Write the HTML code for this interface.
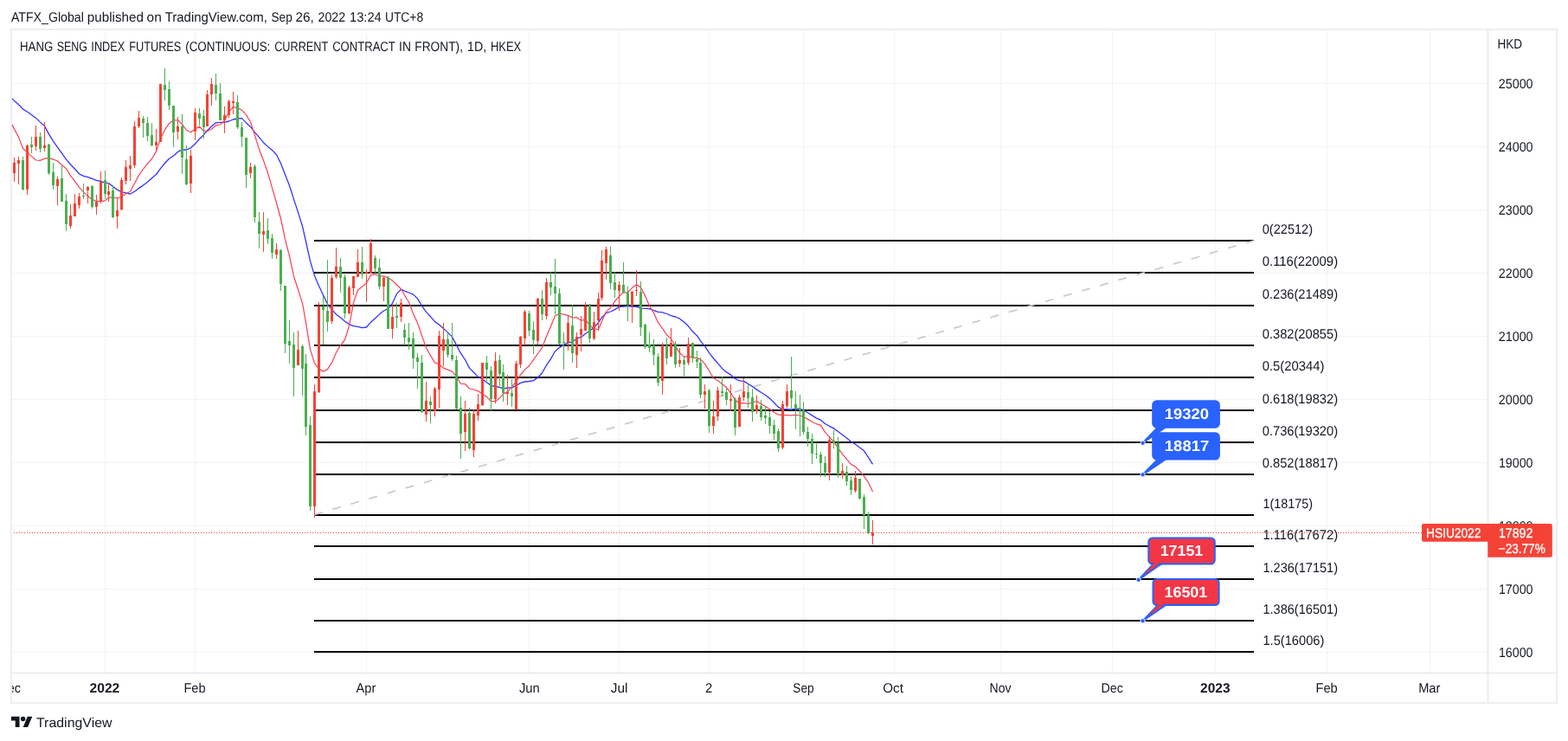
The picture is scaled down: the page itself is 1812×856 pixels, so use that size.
<!DOCTYPE html>
<html lang="en"><head><meta charset="utf-8"><title>HANG SENG INDEX FUTURES</title>
<style>html,body{margin:0;padding:0;background:#fff}body{width:1812px;height:856px;overflow:hidden}svg{display:block}text{font-family:"Liberation Sans", sans-serif;text-rendering:geometricPrecision}</style></head><body>
<svg width="1812" height="856" viewBox="0 0 1812 856">
<rect width="1812" height="856" fill="#fff"/>
<g stroke="#2a2e39" stroke-opacity="0.06" stroke-width="1"><line x1="14" x2="1719" y1="96.5" y2="96.5"/><line x1="14" x2="1719" y1="169.5" y2="169.5"/><line x1="14" x2="1719" y1="242.5" y2="242.5"/><line x1="14" x2="1719" y1="315.5" y2="315.5"/><line x1="14" x2="1719" y1="388.5" y2="388.5"/><line x1="14" x2="1719" y1="461.5" y2="461.5"/><line x1="14" x2="1719" y1="534.5" y2="534.5"/><line x1="14" x2="1719" y1="607.5" y2="607.5"/><line x1="14" x2="1719" y1="680.5" y2="680.5"/><line x1="14" x2="1719" y1="753.5" y2="753.5"/><line x1="121.5" x2="121.5" y1="35" y2="777"/><line x1="225.5" x2="225.5" y1="35" y2="777"/><line x1="423.5" x2="423.5" y1="35" y2="777"/><line x1="611.5" x2="611.5" y1="35" y2="777"/><line x1="715.5" x2="715.5" y1="35" y2="777"/><line x1="819.5" x2="819.5" y1="35" y2="777"/><line x1="928.5" x2="928.5" y1="35" y2="777"/><line x1="1033.5" x2="1033.5" y1="35" y2="777"/><line x1="1156.5" x2="1156.5" y1="35" y2="777"/><line x1="1285.5" x2="1285.5" y1="35" y2="777"/><line x1="1404.5" x2="1404.5" y1="35" y2="777"/><line x1="1533.5" x2="1533.5" y1="35" y2="777"/><line x1="1652.5" x2="1652.5" y1="35" y2="777"/></g>
<g stroke="#000" stroke-width="2" shape-rendering="crispEdges"><line x1="363" x2="1449" y1="278" y2="278"/><line x1="363" x2="1449" y1="315" y2="315"/><line x1="363" x2="1449" y1="353" y2="353"/><line x1="363" x2="1449" y1="399" y2="399"/><line x1="363" x2="1449" y1="436" y2="436"/><line x1="363" x2="1449" y1="474" y2="474"/><line x1="363" x2="1449" y1="511" y2="511"/><line x1="363" x2="1449" y1="548" y2="548"/><line x1="363" x2="1449" y1="595" y2="595"/><line x1="363" x2="1449" y1="631" y2="631"/><line x1="363" x2="1449" y1="669" y2="669"/><line x1="363" x2="1449" y1="717" y2="717"/><line x1="363" x2="1449" y1="753" y2="753"/></g>
<line x1="363" y1="594.6" x2="1449" y2="278" stroke="#c9cbd8" stroke-width="1.8" stroke-dasharray="10 12"/>
<g fill="none" stroke-linejoin="round" stroke-linecap="butt"><path d="M13.2 113.1 L16.5 116.4 L21.5 120.7 L26.5 126.1 L31.5 129.0 L36.5 132.7 L41.5 136.4 L46.5 141.1 L51.5 145.6 L56.5 154.9 L61.5 163.1 L66.5 170.1 L71.5 177.1 L76.5 184.1 L81.5 190.0 L86.5 195.2 L91.5 200.8 L96.5 203.3 L101.5 204.7 L106.5 206.4 L111.5 208.3 L116.5 209.4 L121.5 211.3 L125.5 211.4 L130.5 215.6 L135.5 219.2 L140.5 221.7 L145.5 222.8 L150.5 224.0 L155.5 221.3 L160.5 217.4 L165.5 214.1 L170.5 210.3 L175.5 205.8 L180.5 201.5 L185.5 194.6 L190.5 188.5 L195.5 183.2 L200.5 180.0 L205.5 175.4 L210.5 172.9 L215.5 173.0 L220.5 170.8 L225.5 166.3 L230.5 160.5 L235.5 155.7 L239.5 150.8 L244.5 146.0 L249.5 141.8 L254.5 141.4 L259.5 141.3 L264.5 140.0 L269.5 138.0 L274.5 137.0 L279.5 136.6 L284.5 141.9 L289.5 146.4 L294.5 152.8 L299.5 158.7 L304.5 164.7 L309.5 169.4 L314.5 173.4 L319.5 178.8 L324.5 188.7 L329.5 201.7 L334.5 214.3 L339.5 230.1 L344.5 245.4 L349.5 261.3 L353.5 279.0 L358.5 301.6 L363.5 318.4 L368.5 330.2 L373.5 340.8 L378.5 351.5 L383.5 357.4 L388.5 363.2 L393.5 366.7 L398.5 371.3 L403.5 374.6 L408.5 376.7 L413.5 377.3 L418.5 378.7 L423.5 378.0 L428.5 372.2 L433.5 367.8 L438.5 363.1 L443.5 359.0 L448.5 356.7 L453.5 350.3 L458.5 339.4 L463.5 334.3 L467.5 336.1 L472.5 338.0 L477.5 340.1 L482.5 344.9 L487.5 353.3 L492.5 360.4 L497.5 365.7 L502.5 371.6 L507.5 375.0 L512.5 379.4 L517.5 384.1 L522.5 389.1 L527.5 398.6 L532.5 408.2 L537.5 415.5 L542.5 425.4 L547.5 430.3 L552.5 435.4 L557.5 438.0 L562.5 441.8 L567.5 445.4 L572.5 446.5 L577.5 447.4 L581.5 449.2 L586.5 448.0 L591.5 447.8 L596.5 445.4 L601.5 442.4 L606.5 441.0 L611.5 440.5 L616.5 439.6 L621.5 436.1 L626.5 430.7 L631.5 421.9 L636.5 414.6 L641.5 405.7 L646.5 401.6 L651.5 398.1 L656.5 395.8 L661.5 394.8 L666.5 391.2 L671.5 389.4 L676.5 385.5 L681.5 382.3 L686.5 378.3 L691.5 372.6 L695.5 366.7 L700.5 361.6 L705.5 360.0 L710.5 357.6 L715.5 354.4 L720.5 354.1 L725.5 353.5 L730.5 354.1 L735.5 354.3 L740.5 356.2 L745.5 356.4 L750.5 356.7 L755.5 358.6 L760.5 360.3 L765.5 360.8 L770.5 362.5 L775.5 364.6 L780.5 366.0 L785.5 368.2 L790.5 372.0 L795.5 376.8 L800.5 383.1 L805.5 387.7 L809.5 393.8 L814.5 399.9 L819.5 407.6 L824.5 414.0 L829.5 419.7 L834.5 425.7 L839.5 429.9 L844.5 432.9 L849.5 437.5 L854.5 439.9 L859.5 440.4 L864.5 443.4 L869.5 446.5 L874.5 450.1 L879.5 453.2 L884.5 456.5 L889.5 460.1 L894.5 465.2 L899.5 470.4 L904.5 472.9 L909.5 472.7 L914.5 473.1 L919.5 472.1 L924.5 471.8 L928.5 474.1 L933.5 476.8 L938.5 479.9 L943.5 483.1 L948.5 485.2 L953.5 489.5 L958.5 492.3 L963.5 494.9 L968.5 498.5 L973.5 502.3 L978.5 506.0 L983.5 510.2 L988.5 513.2 L993.5 517.0 L998.5 520.8 L1003.5 528.3 L1008.5 536.4" stroke="#3333ff" stroke-width="1.3"/><path d="M13.2 142.6 L16.5 149.1 L21.5 158.4 L26.5 171.5 L31.5 175.9 L36.5 180.6 L41.5 185.0 L46.5 185.3 L51.5 183.2 L56.5 182.7 L61.5 184.1 L66.5 186.0 L71.5 190.8 L76.5 194.8 L81.5 202.9 L86.5 209.4 L91.5 216.3 L96.5 221.9 L101.5 226.6 L106.5 230.5 L111.5 232.4 L116.5 232.7 L121.5 231.8 L125.5 228.1 L130.5 228.2 L135.5 229.0 L140.5 227.1 L145.5 223.7 L150.5 221.3 L155.5 212.0 L160.5 202.3 L165.5 195.5 L170.5 188.9 L175.5 183.5 L180.5 174.9 L185.5 160.2 L190.5 149.8 L195.5 142.7 L200.5 138.8 L205.5 138.8 L210.5 143.4 L215.5 150.5 L220.5 152.8 L225.5 149.0 L230.5 146.2 L235.5 151.2 L239.5 151.7 L244.5 149.3 L249.5 144.7 L254.5 144.0 L259.5 139.2 L264.5 129.6 L269.5 123.3 L274.5 125.0 L279.5 127.1 L284.5 132.6 L289.5 141.0 L294.5 156.4 L299.5 172.6 L304.5 185.4 L309.5 199.7 L314.5 217.2 L319.5 234.3 L324.5 252.5 L329.5 276.4 L334.5 296.0 L339.5 319.2 L344.5 334.5 L349.5 350.1 L353.5 372.7 L358.5 403.6 L363.5 419.6 L368.5 426.1 L373.5 429.1 L378.5 426.6 L383.5 418.9 L388.5 407.2 L393.5 398.9 L398.5 392.5 L403.5 376.4 L408.5 349.9 L413.5 335.0 L418.5 331.3 L423.5 326.9 L428.5 317.9 L433.5 316.8 L438.5 319.0 L443.5 319.1 L448.5 320.8 L453.5 324.2 L458.5 329.0 L463.5 333.7 L467.5 341.0 L472.5 349.0 L477.5 362.3 L482.5 373.1 L487.5 387.6 L492.5 401.8 L497.5 410.6 L502.5 418.9 L507.5 421.0 L512.5 425.2 L517.5 427.2 L522.5 429.2 L527.5 435.0 L532.5 443.3 L537.5 443.5 L542.5 449.0 L547.5 450.0 L552.5 451.8 L557.5 454.9 L562.5 458.4 L567.5 463.5 L572.5 463.7 L577.5 459.7 L581.5 455.1 L586.5 452.6 L591.5 446.6 L596.5 440.8 L601.5 433.0 L606.5 427.1 L611.5 422.5 L616.5 415.7 L621.5 408.5 L626.5 401.6 L631.5 388.8 L636.5 376.7 L641.5 364.7 L646.5 362.4 L651.5 363.1 L656.5 364.4 L661.5 367.0 L666.5 366.7 L671.5 370.2 L676.5 369.3 L681.5 375.8 L686.5 379.8 L691.5 380.5 L695.5 370.9 L700.5 360.1 L705.5 355.5 L710.5 348.2 L715.5 342.2 L720.5 337.9 L725.5 337.8 L730.5 332.4 L735.5 328.7 L740.5 331.9 L745.5 341.9 L750.5 353.3 L755.5 361.6 L760.5 372.4 L765.5 379.4 L770.5 387.0 L775.5 391.3 L780.5 399.7 L785.5 407.8 L790.5 412.1 L795.5 411.8 L800.5 412.9 L805.5 413.7 L809.5 415.1 L814.5 420.4 L819.5 428.2 L824.5 436.7 L829.5 439.8 L834.5 443.5 L839.5 447.6 L844.5 454.0 L849.5 462.0 L854.5 466.1 L859.5 465.7 L864.5 466.5 L869.5 464.8 L874.5 463.5 L879.5 466.6 L884.5 469.5 L889.5 472.5 L894.5 476.5 L899.5 478.9 L904.5 479.7 L909.5 479.7 L914.5 479.8 L919.5 479.4 L924.5 480.0 L928.5 481.7 L933.5 484.1 L938.5 487.3 L943.5 489.7 L948.5 491.4 L953.5 499.3 L958.5 504.9 L963.5 510.1 L968.5 517.7 L973.5 524.7 L978.5 530.4 L983.5 536.3 L988.5 539.1 L993.5 544.2 L998.5 550.2 L1003.5 557.2 L1008.5 567.9" stroke="#f7455c" stroke-width="1.25"/></g>
<g shape-rendering="crispEdges"><g fill="#4caf50"><rect x="26" y="181" width="1" height="39"/><rect x="25" y="185" width="3" height="34"/><rect x="36" y="158" width="1" height="19"/><rect x="35" y="167" width="3" height="3"/><rect x="46" y="153" width="1" height="23"/><rect x="45" y="158" width="3" height="14"/><rect x="56" y="166" width="1" height="36"/><rect x="55" y="167" width="3" height="33"/><rect x="61" y="188" width="1" height="31"/><rect x="60" y="199" width="3" height="15"/><rect x="71" y="192" width="1" height="41"/><rect x="70" y="206" width="3" height="27"/><rect x="76" y="224" width="1" height="43"/><rect x="75" y="232" width="3" height="27"/><rect x="96" y="212" width="1" height="18"/><rect x="95" y="226" width="3" height="1"/><rect x="106" y="214" width="1" height="27"/><rect x="105" y="215" width="3" height="24"/><rect x="121" y="197" width="1" height="33"/><rect x="120" y="208" width="3" height="16"/><rect x="130" y="214" width="1" height="38"/><rect x="129" y="220" width="3" height="31"/><rect x="165" y="134" width="1" height="25"/><rect x="164" y="137" width="3" height="5"/><rect x="170" y="135" width="1" height="28"/><rect x="169" y="142" width="3" height="15"/><rect x="175" y="142" width="1" height="27"/><rect x="174" y="156" width="3" height="12"/><rect x="190" y="79" width="1" height="37"/><rect x="189" y="98" width="3" height="6"/><rect x="195" y="94" width="1" height="33"/><rect x="194" y="103" width="3" height="19"/><rect x="200" y="122" width="1" height="48"/><rect x="199" y="122" width="3" height="31"/><rect x="210" y="132" width="1" height="69"/><rect x="209" y="146" width="3" height="36"/><rect x="215" y="168" width="1" height="46"/><rect x="214" y="184" width="3" height="29"/><rect x="230" y="125" width="1" height="20"/><rect x="229" y="131" width="3" height="6"/><rect x="235" y="127" width="1" height="33"/><rect x="234" y="134" width="3" height="13"/><rect x="249" y="85" width="1" height="31"/><rect x="248" y="98" width="3" height="10"/><rect x="254" y="96" width="1" height="43"/><rect x="253" y="108" width="3" height="31"/><rect x="274" y="110" width="1" height="39"/><rect x="273" y="118" width="3" height="29"/><rect x="279" y="141" width="1" height="29"/><rect x="278" y="147" width="3" height="11"/><rect x="284" y="159" width="1" height="58"/><rect x="283" y="159" width="3" height="43"/><rect x="294" y="190" width="1" height="67"/><rect x="293" y="192" width="3" height="59"/><rect x="299" y="245" width="1" height="42"/><rect x="298" y="256" width="3" height="14"/><rect x="309" y="252" width="1" height="30"/><rect x="308" y="266" width="3" height="10"/><rect x="314" y="270" width="1" height="29"/><rect x="313" y="275" width="3" height="17"/><rect x="324" y="288" width="1" height="48"/><rect x="323" y="289" width="3" height="39"/><rect x="329" y="330" width="1" height="78"/><rect x="328" y="330" width="3" height="67"/><rect x="334" y="370" width="1" height="50"/><rect x="333" y="394" width="3" height="5"/><rect x="339" y="384" width="1" height="74"/><rect x="338" y="398" width="3" height="27"/><rect x="349" y="398" width="1" height="59"/><rect x="348" y="400" width="3" height="26"/><rect x="353" y="409" width="1" height="94"/><rect x="352" y="420" width="3" height="73"/><rect x="358" y="481" width="1" height="109"/><rect x="357" y="491" width="3" height="94"/><rect x="373" y="342" width="1" height="56"/><rect x="372" y="354" width="3" height="4"/><rect x="378" y="300" width="1" height="83"/><rect x="377" y="359" width="3" height="13"/><rect x="393" y="298" width="1" height="40"/><rect x="392" y="308" width="3" height="13"/><rect x="398" y="317" width="1" height="51"/><rect x="397" y="320" width="3" height="42"/><rect x="418" y="285" width="1" height="37"/><rect x="417" y="303" width="3" height="14"/><rect x="433" y="295" width="1" height="21"/><rect x="432" y="298" width="3" height="12"/><rect x="438" y="299" width="1" height="35"/><rect x="437" y="309" width="3" height="22"/><rect x="448" y="319" width="1" height="61"/><rect x="447" y="321" width="3" height="59"/><rect x="458" y="350" width="1" height="29"/><rect x="457" y="365" width="3" height="2"/><rect x="467" y="374" width="1" height="25"/><rect x="466" y="381" width="3" height="9"/><rect x="472" y="373" width="1" height="31"/><rect x="471" y="390" width="3" height="5"/><rect x="477" y="384" width="1" height="42"/><rect x="476" y="391" width="3" height="23"/><rect x="482" y="408" width="1" height="41"/><rect x="481" y="413" width="3" height="5"/><rect x="487" y="410" width="1" height="67"/><rect x="486" y="419" width="3" height="57"/><rect x="497" y="458" width="1" height="31"/><rect x="496" y="464" width="3" height="4"/><rect x="517" y="385" width="1" height="28"/><rect x="516" y="392" width="3" height="18"/><rect x="522" y="373" width="1" height="44"/><rect x="521" y="410" width="3" height="5"/><rect x="527" y="411" width="1" height="62"/><rect x="526" y="416" width="3" height="56"/><rect x="532" y="458" width="1" height="72"/><rect x="531" y="471" width="3" height="30"/><rect x="542" y="471" width="1" height="48"/><rect x="541" y="477" width="3" height="41"/><rect x="562" y="411" width="1" height="29"/><rect x="561" y="419" width="3" height="8"/><rect x="567" y="423" width="1" height="52"/><rect x="566" y="428" width="3" height="33"/><rect x="577" y="410" width="1" height="36"/><rect x="576" y="416" width="3" height="16"/><rect x="581" y="421" width="1" height="43"/><rect x="580" y="430" width="3" height="24"/><rect x="591" y="438" width="1" height="32"/><rect x="590" y="454" width="3" height="4"/><rect x="611" y="359" width="1" height="29"/><rect x="610" y="362" width="3" height="20"/><rect x="616" y="371" width="1" height="38"/><rect x="615" y="381" width="3" height="12"/><rect x="626" y="335" width="1" height="35"/><rect x="625" y="345" width="3" height="18"/><rect x="636" y="314" width="1" height="27"/><rect x="635" y="326" width="3" height="6"/><rect x="641" y="299" width="1" height="64"/><rect x="640" y="331" width="3" height="8"/><rect x="646" y="333" width="1" height="65"/><rect x="645" y="339" width="3" height="58"/><rect x="651" y="384" width="1" height="43"/><rect x="650" y="395" width="3" height="1"/><rect x="661" y="352" width="1" height="67"/><rect x="660" y="376" width="3" height="32"/><rect x="681" y="351" width="1" height="45"/><rect x="680" y="353" width="3" height="38"/><rect x="705" y="285" width="1" height="49"/><rect x="704" y="295" width="3" height="32"/><rect x="710" y="314" width="1" height="30"/><rect x="709" y="326" width="3" height="9"/><rect x="720" y="303" width="1" height="35"/><rect x="719" y="329" width="3" height="9"/><rect x="725" y="331" width="1" height="40"/><rect x="724" y="338" width="3" height="14"/><rect x="740" y="325" width="1" height="63"/><rect x="739" y="337" width="3" height="41"/><rect x="745" y="374" width="1" height="29"/><rect x="744" y="375" width="3" height="26"/><rect x="750" y="384" width="1" height="23"/><rect x="749" y="398" width="3" height="4"/><rect x="755" y="392" width="1" height="30"/><rect x="754" y="399" width="3" height="11"/><rect x="760" y="408" width="1" height="38"/><rect x="759" y="412" width="3" height="30"/><rect x="770" y="390" width="1" height="31"/><rect x="769" y="399" width="3" height="15"/><rect x="780" y="394" width="1" height="31"/><rect x="779" y="397" width="3" height="24"/><rect x="790" y="411" width="1" height="25"/><rect x="789" y="416" width="3" height="5"/><rect x="800" y="396" width="1" height="23"/><rect x="799" y="396" width="3" height="18"/><rect x="805" y="405" width="1" height="20"/><rect x="804" y="415" width="3" height="3"/><rect x="809" y="413" width="1" height="47"/><rect x="808" y="419" width="3" height="37"/><rect x="819" y="449" width="1" height="51"/><rect x="818" y="451" width="3" height="41"/><rect x="834" y="435" width="1" height="23"/><rect x="833" y="452" width="3" height="2"/><rect x="839" y="449" width="1" height="19"/><rect x="838" y="453" width="3" height="9"/><rect x="849" y="459" width="1" height="44"/><rect x="848" y="461" width="3" height="33"/><rect x="864" y="443" width="1" height="28"/><rect x="863" y="453" width="3" height="7"/><rect x="869" y="449" width="1" height="38"/><rect x="868" y="459" width="3" height="17"/><rect x="879" y="462" width="1" height="24"/><rect x="878" y="469" width="3" height="13"/><rect x="884" y="469" width="1" height="21"/><rect x="883" y="480" width="3" height="3"/><rect x="889" y="475" width="1" height="26"/><rect x="888" y="482" width="3" height="10"/><rect x="894" y="485" width="1" height="24"/><rect x="893" y="491" width="3" height="10"/><rect x="899" y="495" width="1" height="27"/><rect x="898" y="498" width="3" height="20"/><rect x="914" y="412" width="1" height="60"/><rect x="913" y="451" width="3" height="9"/><rect x="919" y="452" width="1" height="44"/><rect x="918" y="467" width="3" height="5"/><rect x="924" y="456" width="1" height="48"/><rect x="923" y="472" width="3" height="2"/><rect x="928" y="464" width="1" height="38"/><rect x="927" y="474" width="3" height="25"/><rect x="933" y="493" width="1" height="23"/><rect x="932" y="499" width="3" height="8"/><rect x="938" y="501" width="1" height="35"/><rect x="937" y="507" width="3" height="17"/><rect x="943" y="511" width="1" height="19"/><rect x="942" y="524" width="3" height="1"/><rect x="948" y="522" width="1" height="29"/><rect x="947" y="525" width="3" height="10"/><rect x="953" y="527" width="1" height="24"/><rect x="952" y="535" width="3" height="11"/><rect x="963" y="497" width="1" height="21"/><rect x="962" y="509" width="3" height="3"/><rect x="968" y="505" width="1" height="47"/><rect x="967" y="512" width="3" height="36"/><rect x="978" y="538" width="1" height="23"/><rect x="977" y="545" width="3" height="11"/><rect x="983" y="550" width="1" height="22"/><rect x="982" y="555" width="3" height="11"/><rect x="993" y="553" width="1" height="24"/><rect x="992" y="553" width="3" height="23"/><rect x="998" y="571" width="1" height="40"/><rect x="997" y="574" width="3" height="21"/><rect x="1003" y="591" width="1" height="26"/><rect x="1002" y="595" width="3" height="21"/></g><g fill="#f44336"><rect x="16" y="182" width="1" height="28"/><rect x="15" y="188" width="3" height="12"/><rect x="21" y="181" width="1" height="32"/><rect x="20" y="185" width="3" height="4"/><rect x="31" y="167" width="1" height="58"/><rect x="30" y="168" width="3" height="51"/><rect x="41" y="145" width="1" height="29"/><rect x="40" y="158" width="3" height="11"/><rect x="51" y="141" width="1" height="34"/><rect x="50" y="168" width="3" height="3"/><rect x="66" y="204" width="1" height="33"/><rect x="65" y="207" width="3" height="8"/><rect x="81" y="236" width="1" height="28"/><rect x="80" y="249" width="3" height="12"/><rect x="86" y="224" width="1" height="26"/><rect x="85" y="235" width="3" height="15"/><rect x="91" y="223" width="1" height="18"/><rect x="90" y="227" width="3" height="10"/><rect x="101" y="215" width="1" height="20"/><rect x="100" y="216" width="3" height="4"/><rect x="111" y="225" width="1" height="23"/><rect x="110" y="233" width="3" height="6"/><rect x="116" y="198" width="1" height="37"/><rect x="115" y="210" width="3" height="23"/><rect x="125" y="211" width="1" height="22"/><rect x="124" y="221" width="3" height="4"/><rect x="135" y="228" width="1" height="36"/><rect x="134" y="243" width="3" height="7"/><rect x="140" y="205" width="1" height="38"/><rect x="139" y="208" width="3" height="34"/><rect x="145" y="185" width="1" height="28"/><rect x="144" y="193" width="3" height="16"/><rect x="150" y="180" width="1" height="29"/><rect x="149" y="191" width="3" height="4"/><rect x="155" y="140" width="1" height="54"/><rect x="154" y="146" width="3" height="45"/><rect x="160" y="128" width="1" height="20"/><rect x="159" y="136" width="3" height="10"/><rect x="180" y="149" width="1" height="25"/><rect x="179" y="164" width="3" height="4"/><rect x="185" y="97" width="1" height="67"/><rect x="184" y="97" width="3" height="67"/><rect x="205" y="135" width="1" height="26"/><rect x="204" y="146" width="3" height="6"/><rect x="220" y="173" width="1" height="50"/><rect x="219" y="180" width="3" height="32"/><rect x="225" y="125" width="1" height="37"/><rect x="224" y="130" width="3" height="22"/><rect x="239" y="104" width="1" height="42"/><rect x="238" y="109" width="3" height="37"/><rect x="244" y="90" width="1" height="32"/><rect x="243" y="97" width="3" height="12"/><rect x="259" y="123" width="1" height="31"/><rect x="258" y="133" width="3" height="6"/><rect x="264" y="115" width="1" height="21"/><rect x="263" y="117" width="3" height="16"/><rect x="269" y="106" width="1" height="26"/><rect x="268" y="117" width="3" height="2"/><rect x="289" y="188" width="1" height="18"/><rect x="288" y="193" width="3" height="7"/><rect x="304" y="245" width="1" height="46"/><rect x="303" y="267" width="3" height="4"/><rect x="319" y="281" width="1" height="18"/><rect x="318" y="288" width="3" height="6"/><rect x="344" y="382" width="1" height="40"/><rect x="343" y="404" width="3" height="18"/><rect x="363" y="444" width="1" height="154"/><rect x="362" y="452" width="3" height="133"/><rect x="368" y="349" width="1" height="105"/><rect x="367" y="354" width="3" height="99"/><rect x="383" y="318" width="1" height="56"/><rect x="382" y="321" width="3" height="50"/><rect x="388" y="286" width="1" height="36"/><rect x="387" y="308" width="3" height="12"/><rect x="403" y="330" width="1" height="33"/><rect x="402" y="332" width="3" height="30"/><rect x="408" y="319" width="1" height="22"/><rect x="407" y="319" width="3" height="14"/><rect x="413" y="288" width="1" height="32"/><rect x="412" y="303" width="3" height="17"/><rect x="423" y="311" width="1" height="38"/><rect x="422" y="314" width="3" height="2"/><rect x="428" y="276" width="1" height="40"/><rect x="427" y="281" width="3" height="35"/><rect x="443" y="319" width="1" height="29"/><rect x="442" y="321" width="3" height="10"/><rect x="453" y="351" width="1" height="40"/><rect x="452" y="366" width="3" height="14"/><rect x="463" y="345" width="1" height="27"/><rect x="462" y="350" width="3" height="16"/><rect x="492" y="441" width="1" height="46"/><rect x="491" y="463" width="3" height="16"/><rect x="502" y="447" width="1" height="34"/><rect x="501" y="449" width="3" height="26"/><rect x="507" y="382" width="1" height="89"/><rect x="506" y="388" width="3" height="62"/><rect x="512" y="373" width="1" height="50"/><rect x="511" y="392" width="3" height="13"/><rect x="537" y="463" width="1" height="58"/><rect x="536" y="478" width="3" height="21"/><rect x="547" y="473" width="1" height="55"/><rect x="546" y="478" width="3" height="42"/><rect x="552" y="455" width="1" height="31"/><rect x="551" y="467" width="3" height="13"/><rect x="557" y="419" width="1" height="50"/><rect x="556" y="419" width="3" height="49"/><rect x="572" y="407" width="1" height="59"/><rect x="571" y="417" width="3" height="44"/><rect x="586" y="433" width="1" height="35"/><rect x="585" y="453" width="3" height="2"/><rect x="596" y="417" width="1" height="57"/><rect x="595" y="420" width="3" height="53"/><rect x="601" y="388" width="1" height="37"/><rect x="600" y="389" width="3" height="32"/><rect x="606" y="358" width="1" height="41"/><rect x="605" y="360" width="3" height="31"/><rect x="621" y="344" width="1" height="54"/><rect x="620" y="345" width="3" height="49"/><rect x="631" y="321" width="1" height="48"/><rect x="630" y="326" width="3" height="39"/><rect x="656" y="365" width="1" height="40"/><rect x="655" y="373" width="3" height="23"/><rect x="666" y="384" width="1" height="41"/><rect x="665" y="389" width="3" height="21"/><rect x="671" y="365" width="1" height="41"/><rect x="670" y="380" width="3" height="7"/><rect x="676" y="349" width="1" height="33"/><rect x="675" y="354" width="3" height="28"/><rect x="686" y="360" width="1" height="33"/><rect x="685" y="372" width="3" height="19"/><rect x="691" y="338" width="1" height="44"/><rect x="690" y="345" width="3" height="25"/><rect x="695" y="289" width="1" height="58"/><rect x="694" y="301" width="3" height="43"/><rect x="700" y="285" width="1" height="38"/><rect x="699" y="288" width="3" height="16"/><rect x="715" y="325" width="1" height="34"/><rect x="714" y="329" width="3" height="7"/><rect x="730" y="336" width="1" height="37"/><rect x="729" y="337" width="3" height="16"/><rect x="735" y="312" width="1" height="30"/><rect x="734" y="335" width="3" height="1"/><rect x="765" y="396" width="1" height="60"/><rect x="764" y="399" width="3" height="41"/><rect x="775" y="379" width="1" height="33"/><rect x="774" y="396" width="3" height="16"/><rect x="785" y="402" width="1" height="22"/><rect x="784" y="416" width="3" height="4"/><rect x="795" y="390" width="1" height="32"/><rect x="794" y="397" width="3" height="22"/><rect x="814" y="444" width="1" height="28"/><rect x="813" y="452" width="3" height="4"/><rect x="824" y="463" width="1" height="38"/><rect x="823" y="481" width="3" height="11"/><rect x="829" y="447" width="1" height="39"/><rect x="828" y="451" width="3" height="30"/><rect x="844" y="444" width="1" height="31"/><rect x="843" y="461" width="3" height="2"/><rect x="854" y="456" width="1" height="37"/><rect x="853" y="459" width="3" height="34"/><rect x="859" y="437" width="1" height="26"/><rect x="858" y="452" width="3" height="7"/><rect x="874" y="457" width="1" height="21"/><rect x="873" y="468" width="3" height="7"/><rect x="904" y="463" width="1" height="56"/><rect x="903" y="467" width="3" height="50"/><rect x="909" y="444" width="1" height="27"/><rect x="908" y="452" width="3" height="17"/><rect x="958" y="504" width="1" height="51"/><rect x="957" y="508" width="3" height="38"/><rect x="973" y="535" width="1" height="18"/><rect x="972" y="544" width="3" height="5"/><rect x="988" y="544" width="1" height="25"/><rect x="987" y="552" width="3" height="15"/><rect x="1008" y="601" width="1" height="28"/><rect x="1007" y="615" width="3" height="4"/></g></g>
<g fill="#131722"><text transform="translate(1458.75 270.00) scale(0.9401 1.000)" font-size="15.5">0(22512)</text><text transform="translate(1458.74 307.00) scale(0.9592 1.000)" font-size="15.5">0.116(22009)</text><text transform="translate(1458.75 345.00) scale(0.9469 1.000)" font-size="15.5">0.236(21489)</text><text transform="translate(1458.75 391.00) scale(0.9469 1.000)" font-size="15.5">0.382(20855)</text><text transform="translate(1458.74 428.00) scale(0.9555 1.000)" font-size="15.5">0.5(20344)</text><text transform="translate(1458.75 466.00) scale(0.9469 1.000)" font-size="15.5">0.618(19832)</text><text transform="translate(1458.75 503.00) scale(0.9469 1.000)" font-size="15.5">0.736(19320)</text><text transform="translate(1458.75 540.00) scale(0.9469 1.000)" font-size="15.5">0.852(18817)</text><text transform="translate(1459.42 587.00) scale(0.9292 1.000)" font-size="15.5">1(18175)</text><text transform="translate(1459.39 623.00) scale(0.9520 1.000)" font-size="15.5">1.116(17672)</text><text transform="translate(1459.41 661.00) scale(0.9397 1.000)" font-size="15.5">1.236(17151)</text><text transform="translate(1459.41 709.00) scale(0.9397 1.000)" font-size="15.5">1.386(16501)</text><text transform="translate(1459.40 745.00) scale(0.9466 1.000)" font-size="15.5">1.5(16006)</text></g>
<line x1="13" x2="1643" y1="615.5" y2="615.5" stroke="#f44336" stroke-width="1" stroke-dasharray="1 2" shape-rendering="crispEdges"/>
<g fill="none" stroke="#e0e1e5" stroke-width="1" shape-rendering="crispEdges"><line x1="1719.5" x2="1719.5" y1="35" y2="811"/><line x1="14" x2="1798" y1="777.5" y2="777.5"/></g>
<rect x="13" y="34" width="1786" height="778" fill="none" stroke="#edeef3" stroke-width="2" shape-rendering="crispEdges"/>
<g fill="#131722"><text transform="translate(1731.79 102.00) scale(0.9225 1.000)" font-size="15.5">25000</text><text transform="translate(1731.79 175.00) scale(0.9225 1.000)" font-size="15.5">24000</text><text transform="translate(1731.79 248.00) scale(0.9225 1.000)" font-size="15.5">23000</text><text transform="translate(1731.79 321.00) scale(0.9225 1.000)" font-size="15.5">22000</text><text transform="translate(1731.79 394.00) scale(0.9225 1.000)" font-size="15.5">21000</text><text transform="translate(1731.79 467.00) scale(0.9225 1.000)" font-size="15.5">20000</text><text transform="translate(1731.93 540.00) scale(0.9191 1.000)" font-size="15.5">19000</text><text transform="translate(1731.93 613.00) scale(0.9191 1.000)" font-size="15.5">18000</text><text transform="translate(1731.93 686.00) scale(0.9191 1.000)" font-size="15.5">17000</text><text transform="translate(1731.93 759.00) scale(0.9191 1.000)" font-size="15.5">16000</text><text transform="translate(1730.52 56.00) scale(0.8710 1.000)" font-size="15.5">HKD</text></g>
<path d="M1645 605h75v20.8h-75a2 2 0 0 1-2-2v-16.8a2 2 0 0 1 2-2z" fill="#f44336"/>
<path d="M1719.3 605h72.5a2 2 0 0 1 2 2v34.8a2 2 0 0 1-2 2h-72.5z" fill="#f44336"/>
<g fill="#fff" stroke="#fff" stroke-width="0.3"><text transform="translate(1648.10 620.70) scale(0.8847 1.000)" font-size="15.5">HSIU2022</text><text transform="translate(1731.94 620.70) scale(0.9128 1.000)" font-size="15.5">17892</text><text transform="translate(1731.75 638.70) scale(0.8762 1.000)" font-size="15.5">−23.77%</text></g>
<clipPath id="ca"><rect x="14" y="778" width="1705" height="33"/></clipPath>
<g fill="#131722" clip-path="url(#ca)"><text transform="translate(-1.66 799.50) scale(0.9335 1.000)" font-size="15.5">Dec</text><text transform="translate(103.49 799.50) scale(1.0101 1.000)" font-size="15.5" font-weight="bold">2022</text><text transform="translate(212.44 799.50) scale(0.9381 1.000)" font-size="15.5">Feb</text><text transform="translate(411.60 799.50) scale(0.9426 1.000)" font-size="15.5">Apr</text><text transform="translate(599.88 799.50) scale(0.9556 1.000)" font-size="15.5">Jun</text><text transform="translate(705.77 799.50) scale(0.9913 1.000)" font-size="15.5">Jul</text><text transform="translate(815.06 799.50) scale(0.9589 1.000)" font-size="15.5">2</text><text transform="translate(916.29 799.50) scale(0.8805 1.000)" font-size="15.5">Sep</text><text transform="translate(1020.32 799.50) scale(0.9774 1.000)" font-size="15.5">Oct</text><text transform="translate(1143.58 799.50) scale(0.9059 1.000)" font-size="15.5">Nov</text><text transform="translate(1272.56 799.50) scale(0.9181 1.000)" font-size="15.5">Dec</text><text transform="translate(1387.10 799.50) scale(1.0018 1.000)" font-size="15.5" font-weight="bold">2023</text><text transform="translate(1520.42 799.50) scale(0.9501 1.000)" font-size="15.5">Feb</text><text transform="translate(1639.13 799.50) scale(0.9474 1.000)" font-size="15.5">Mar</text></g>
<g fill="#131722">
<text y="25.00" font-size="15.5"><tspan x="12.90" textLength="83.93" lengthAdjust="spacingAndGlyphs">ATFX_Global</tspan> <tspan x="100.75" textLength="65.12" lengthAdjust="spacingAndGlyphs">published</tspan> <tspan x="169.58" textLength="17.22" lengthAdjust="spacingAndGlyphs">on</tspan> <tspan x="190.70" textLength="118.11" lengthAdjust="spacingAndGlyphs">TradingView.com,</tspan> <tspan x="313.49" textLength="24.29" lengthAdjust="spacingAndGlyphs">Sep</tspan> <tspan x="341.53" textLength="21.31" lengthAdjust="spacingAndGlyphs">26,</tspan> <tspan x="367.49" textLength="31.72" lengthAdjust="spacingAndGlyphs">2022</tspan> <tspan x="404.00" textLength="36.81" lengthAdjust="spacingAndGlyphs">13:24</tspan> <tspan x="444.97" textLength="44.09" lengthAdjust="spacingAndGlyphs">UTC+8</tspan></text>
<text y="59.00" font-size="15.5"><tspan x="23.04" textLength="38.21" lengthAdjust="spacingAndGlyphs">HANG</tspan> <tspan x="65.64" textLength="35.49" lengthAdjust="spacingAndGlyphs">SENG</tspan> <tspan x="105.35" textLength="38.99" lengthAdjust="spacingAndGlyphs">INDEX</tspan> <tspan x="149.18" textLength="60.19" lengthAdjust="spacingAndGlyphs">FUTURES</tspan> <tspan x="214.20" textLength="98.12" lengthAdjust="spacingAndGlyphs">(CONTINUOUS:</tspan> <tspan x="317.17" textLength="61.80" lengthAdjust="spacingAndGlyphs">CURRENT</tspan> <tspan x="384.15" textLength="72.42" lengthAdjust="spacingAndGlyphs">CONTRACT</tspan> <tspan x="461.05" textLength="13.86" lengthAdjust="spacingAndGlyphs">IN</tspan> <tspan x="479.30" textLength="55.70" lengthAdjust="spacingAndGlyphs">FRONT),</tspan> <tspan x="540.03" textLength="22.13" lengthAdjust="spacingAndGlyphs">1D,</tspan> <tspan x="566.96" textLength="35.31" lengthAdjust="spacingAndGlyphs">HKEX</tspan></text>
</g>
<path d="M1320.6 511.7 L1337.8 493.7 L1346.8 493.7 Z" fill="#2962ff" stroke="#2962ff" stroke-width="2" stroke-linejoin="round"/><rect x="1332.2" y="463.2" width="76.7" height="30.5" rx="4.5" fill="#2962ff" stroke="#2962ff" stroke-width="2"/><circle cx="1320.6" cy="511.7" r="2.7" fill="#2962ff" stroke="#fff" stroke-width="1"/><text transform="translate(1345.85 484.10) scale(1.0533 1.000)" font-size="17.5" font-weight="bold" fill="#fff">19320</text>
<path d="M1320.6 548.3 L1337.8 530.6 L1346.8 530.6 Z" fill="#2962ff" stroke="#2962ff" stroke-width="2" stroke-linejoin="round"/><rect x="1332.2" y="500.2" width="76.7" height="30.4" rx="4.5" fill="#2962ff" stroke="#2962ff" stroke-width="2"/><circle cx="1320.6" cy="548.3" r="2.7" fill="#2962ff" stroke="#fff" stroke-width="1"/><text transform="translate(1345.85 520.60) scale(1.0553 1.000)" font-size="17.5" font-weight="bold" fill="#fff">18817</text>
<path d="M1315.7 669.8 L1332.9 651.5 L1341.9 651.5 Z" fill="#f23645" stroke="#2962ff" stroke-width="2" stroke-linejoin="round"/><rect x="1327.3" y="621.5" width="76.5" height="30.0" rx="4.5" fill="#f23645" stroke="#2962ff" stroke-width="2"/><path d="M1321.1 665.2 L1334.5 650.0 L1340.1 650.0 Z" fill="#f23645"/><circle cx="1315.7" cy="669.8" r="2.7" fill="#2962ff" stroke="#fff" stroke-width="1"/><text transform="translate(1340.69 642.30) scale(1.0187 1.000)" font-size="17.5" font-weight="bold" fill="#fff">17151</text>
<path d="M1320.6 717.2 L1338.1 699.0 L1347.1 699.0 Z" fill="#f23645" stroke="#2962ff" stroke-width="2" stroke-linejoin="round"/><rect x="1332.5" y="668.9" width="76.1" height="30.1" rx="4.5" fill="#f23645" stroke="#2962ff" stroke-width="2"/><path d="M1326.1 712.7 L1339.7 697.5 L1345.3 697.5 Z" fill="#f23645"/><circle cx="1320.6" cy="717.2" r="2.7" fill="#2962ff" stroke="#fff" stroke-width="1"/><text transform="translate(1345.48 689.60) scale(1.0229 1.000)" font-size="17.5" font-weight="bold" fill="#fff">16501</text>
<g transform="translate(12.9,825) scale(0.687)" fill="#131722"><path d="M14 22H7V11H0V4h14v18zM28 22h-8l7.5-18h8L28 22z"/><circle cx="20" cy="8" r="4"/></g>
<text transform="translate(41.98 839.70) scale(1.0268 1.000)" font-size="15.5" fill="#131722">TradingView</text>
</svg></body></html>
